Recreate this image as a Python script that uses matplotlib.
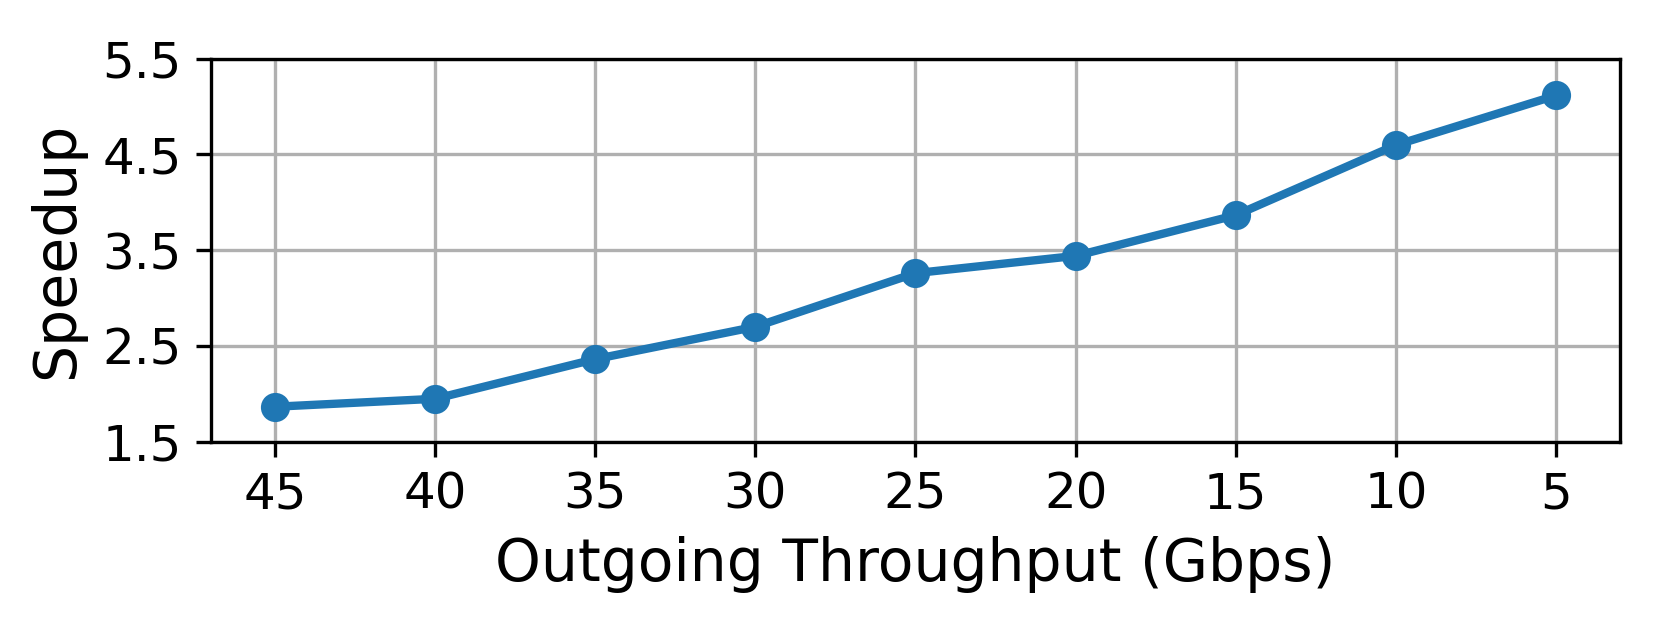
import matplotlib
matplotlib.use("Agg")
import matplotlib.pyplot as plt

throughput = [45, 40, 35, 30, 25, 20, 15, 10, 5]
speedup = [1.865, 1.948, 2.362, 2.70, 3.26, 3.44, 3.865, 4.597, 5.115]
yticks = [1.5, 2.5, 3.5, 4.5, 5.5]

plt.rcParams['font.size'] = 12
fig, ax = plt.subplots(figsize=(1660/300, 623/300), dpi=300)
fig.subplots_adjust(left=0.127, right=0.976, top=0.906, bottom=0.291)
ax.plot(throughput, speedup, marker='o', color='#1f77b4', linewidth=2, markersize=6)
ax.set_xticks(throughput)
ax.set_xticklabels([str(t) for t in throughput])
ax.set_xlim(47, 3)
ax.set_ylim(1.5, 5.5)
ax.set_yticks(yticks)
ax.set_yticklabels([str(t) for t in yticks])
ax.tick_params(labelsize=12)
ax.grid(True)
ax.set_axisbelow(True)
ax.set_xlabel('Outgoing Throughput (Gbps)', fontsize=14)
ax.set_ylabel('Speedup', fontsize=14)
fig.savefig('out.png', dpi=300)
